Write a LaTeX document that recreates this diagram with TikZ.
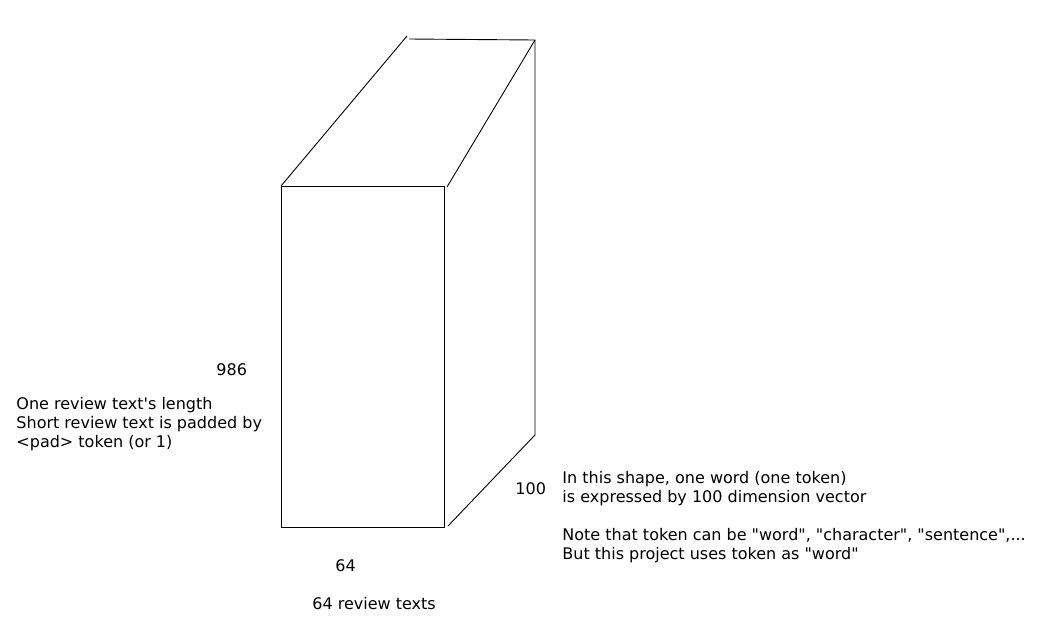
\documentclass[tikz,border=0pt]{standalone}
\usepackage{fontspec}
\setmainfont{DejaVu Sans}
\begin{document}
\begin{tikzpicture}[x=1pt,y=-1pt,line width=0.9pt,
    lbl/.style={anchor=base west, inner sep=0pt, font=\fontsize{16}{19}\selectfont}]
    \useasboundingbox (0,0) rectangle (1050,635);

    %front face
    \coordinate (ftl) at (281,186);
    \coordinate (ftr) at (444,186);
    \coordinate (fbr) at (444,527);
    \coordinate (fbl) at (281,527);
    \draw (ftl) -- (ftr) -- (fbr) -- (fbl) -- cycle;

    %back edges (hand drawn, not quite joined)
    \coordinate (btl) at (407,36);
    \coordinate (btl2) at (409,39);
    \coordinate (btr) at (535,40);
    \coordinate (bbr) at (535,435);
    \draw (ftl) -- (btl);
    \draw (btl2) -- (btr) -- (bbr);
    \draw (447,187) -- (btr);
    \draw (bbr) -- (448,526);

    %labels
    \node[lbl] (len) at (216,375) {986};
    \node[lbl] (lenA) at (16,409) {One review text\textquotesingle s length};
    \node[lbl] (lenB) at (16,428) {Short review text is padded by};
    \node[lbl] (lenC) at (16,447) {<pad> token (or 1)};
    \node[lbl] (dim) at (515,494) {100};
    \node[lbl] (dimA) at (562,483) {In this shape, one word (one token)};
    \node[lbl] (dimB) at (562,502) {is expressed by 100 dimension vector};
    \node[lbl] (dimC) at (562,540) {Note that token can be \textquotedbl word\textquotedbl, \textquotedbl character\textquotedbl, \textquotedbl sentence\textquotedbl,...};
    \node[lbl] (dimD) at (562,559) {But this project uses token as \textquotedbl word\textquotedbl};
    \node[lbl] (bat) at (335,571) {64};
    \node[lbl] (batA) at (312,609) {64 review texts};
\end{tikzpicture}
\end{document}
